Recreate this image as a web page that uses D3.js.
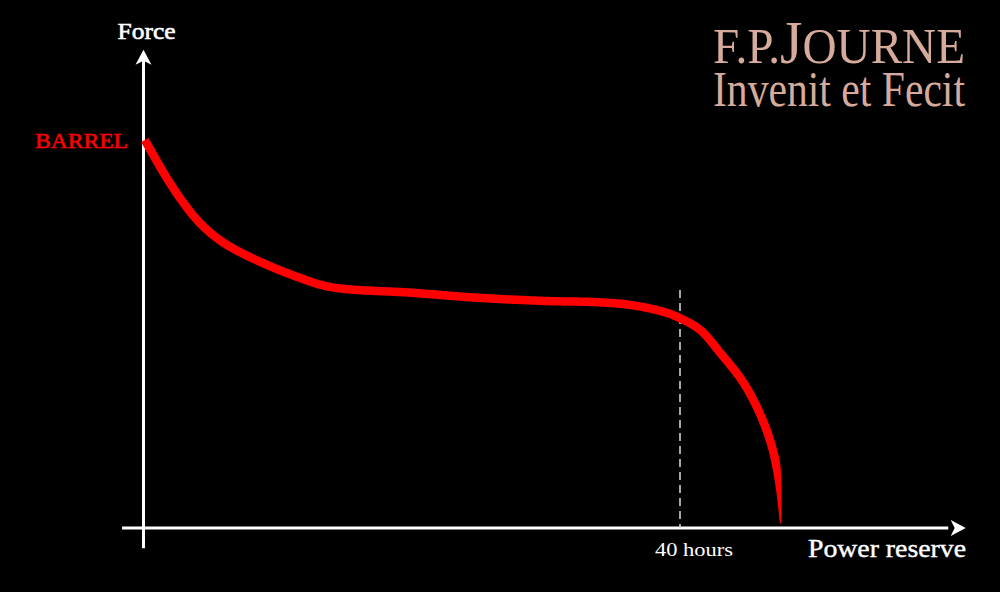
<!DOCTYPE html>
<html>
<head>
<meta charset="utf-8">
<script src="https://cdn.jsdelivr.net/npm/d3@7"></script>
<style>
    html, body { margin: 0; padding: 0; background: #000; }
    #chart { width: 1000px; height: 592px; }
</style>
</head>
<body>
<div id="chart"></div>
<script>
// barrel force curve (hours / relative force)
var hours = [0.1, 1.46, 2.72, 3.99, 5.19, 6.46, 8.92, 11.46, 13.92, 20.1, 25.1, 30.1, 33.8, 36.3, 38.8, 40.0, 41.5, 43.0, 44.74, 46.16, 47.05, 47.35, 47.5];
var force = [99.5, 91.3, 84.6, 79.0, 75.1, 72.1, 67.9, 64.4, 61.8, 60.3, 59.0, 58.2, 57.9, 57.2, 55.4, 53.8, 50.8, 44.9, 37.2, 27.7, 18.2, 10.5, 0.8];
var markHours = [40];
var markLabels = ["40 hours"];
var axisLabels = ["Force", "Power reserve"];
var curveLabel = "BARREL";
var brandLines = ["F.P.", "J", "OURNE", "Invenit et Fecit"];

var svg;
var x;
var y;

function arrowHead(g, tipX, tipY, angle) {
    // small barbed arrow, drawn pointing right then rotated
    g.append("path")
        .attr("d", "M0,0 L-15,-8 L-11,0 L-15,8 Z")
        .attr("transform", `translate(${tipX},${tipY}) rotate(${angle})`)
        .attr("fill", "#fff");
}

// squeeze a text horizontally so it ends at rightX and spans width px
function fitRight(text, rightX, width) {
    const len = text.node().getComputedTextLength();
    text.attr("text-anchor", "end")
        .attr("x", 0)
        .attr("transform", `translate(${rightX},0) scale(${width / len},1)`);
}

function drawChart() {
    const width = 1000;
    const height = 592;

    svg = d3.select("#chart").append("svg")
        .attr("width", width)
        .attr("height", height)
        .style("background", "#000");

    x = d3.scaleLinear()
        .domain([0, 40])
        .range([143.5, 680]);

    y = d3.scaleLinear()
        .domain([0, 100])
        .range([528, 138]);

    const axes = svg.append("g");

    // y axis (Force)
    axes.append("line")
        .attr("x1", x(0)).attr("x2", x(0))
        .attr("y1", y(-5.2)).attr("y2", y(121))
        .attr("stroke", "#fff")
        .attr("stroke-width", 3);
    arrowHead(axes, x(0), y(122.6), -90);

    // x axis (Power reserve)
    axes.append("line")
        .attr("x1", x(-1.6)).attr("x2", x(60))
        .attr("y1", y(0)).attr("y2", y(0))
        .attr("stroke", "#fff")
        .attr("stroke-width", 3);
    arrowHead(axes, x(61.3), y(0), 0);

    // 40 hours marker
    svg.selectAll(".mark")
        .data(markHours)
        .enter().append("line")
        .attr("class", "mark")
        .attr("x1", d => x(d)).attr("x2", d => x(d))
        .attr("y1", y(61)).attr("y2", y(0))
        .attr("stroke", "#ddd")
        .attr("stroke-width", 1.5)
        .attr("stroke-dasharray", "8,5");

    svg.selectAll(".mark-label")
        .data(markHours)
        .enter().append("text")
        .attr("class", "mark-label")
        .attr("x", d => x(d) + 14)
        .attr("y", 556)
        .attr("text-anchor", "middle")
        .attr("font-family", "Liberation Serif, serif")
        .attr("font-size", "18px")
        .attr("fill", "#fff")
        .attr("textLength", 78)
        .attr("lengthAdjust", "spacingAndGlyphs")
        .text((d, i) => markLabels[i]);

    // the force curve, drawn as a ribbon that thins out at the end
    const pts = hours.map((h, i) => [x(h), y(force[i])]);
    const line = d3.line().curve(d3.curveCatmullRom.alpha(0.5));
    const guide = svg.append("path")
        .attr("d", line(pts))
        .attr("fill", "none")
        .attr("stroke", "none");
    const node = guide.node();
    const total = node.getTotalLength();
    const left = [];
    const right = [];
    for (let s = 0; s <= total; s += 1.5) {
        const p = node.getPointAtLength(s);
        const q = node.getPointAtLength(Math.min(total, s + 2));
        const p0 = node.getPointAtLength(Math.max(0, s - 2));
        let dx = q.x - p0.x, dy = q.y - p0.y;
        const len = Math.hypot(dx, dy) || 1;
        dx /= len; dy /= len;
        const w = (1.2 + 7.3 * Math.min(1, (total - s) / 60)) / 2;
        left.push([p.x - dy * w, p.y + dx * w]);
        right.push([p.x + dy * w, p.y - dx * w]);
    }
    guide.remove();
    svg.append("path")
        .attr("d", "M" + left.concat(right.reverse()).map(p => p.join(",")).join("L") + "Z")
        .attr("fill", "#ff0000");

    // texts
    svg.append("text")
        .attr("x", x(0) + 3)
        .attr("y", 39)
        .attr("text-anchor", "middle")
        .attr("font-family", "Liberation Serif, serif")
        .attr("font-size", "24px")
        .attr("fill", "#fff")
        .attr("stroke", "#fff")
        .attr("stroke-width", 0.6)
        .attr("textLength", 58)
        .attr("lengthAdjust", "spacingAndGlyphs")
        .text(axisLabels[0]);

    svg.append("text")
        .attr("x", 966)
        .attr("y", 557)
        .attr("text-anchor", "end")
        .attr("font-family", "Liberation Serif, serif")
        .attr("font-size", "25px")
        .attr("fill", "#fff")
        .attr("stroke", "#fff")
        .attr("stroke-width", 0.4)
        .attr("textLength", 158)
        .attr("lengthAdjust", "spacingAndGlyphs")
        .text(axisLabels[1]);

    svg.append("text")
        .attr("x", 128)
        .attr("y", 148)
        .attr("text-anchor", "end")
        .attr("font-family", "Liberation Serif, serif")
        .attr("font-size", "22px")
        .attr("fill", "#ff0000")
        .attr("stroke", "#ff0000")
        .attr("stroke-width", 0.5)
        .attr("textLength", 93)
        .attr("lengthAdjust", "spacingAndGlyphs")
        .text(curveLabel);

    const brand = svg.append("g")
        .attr("font-family", "Liberation Serif, serif")
        .attr("fill", "#d6ab9c");

    const t1 = brand.append("text")
        .attr("y", 63);
    t1.append("tspan").attr("font-size", "50px").text(brandLines[0]);
    t1.append("tspan").attr("font-size", "61px").text(brandLines[1]);
    t1.append("tspan").attr("font-size", "50px").text(brandLines[2]);
    fitRight(t1, 965, 252);

    const t2 = brand.append("text")
        .attr("y", 106)
        .attr("font-size", "50px")
        .text(brandLines[3]);
    fitRight(t2, 965, 252);
}

document.addEventListener("DOMContentLoaded", () => {
    drawChart();
});
</script>
</body>
</html>
